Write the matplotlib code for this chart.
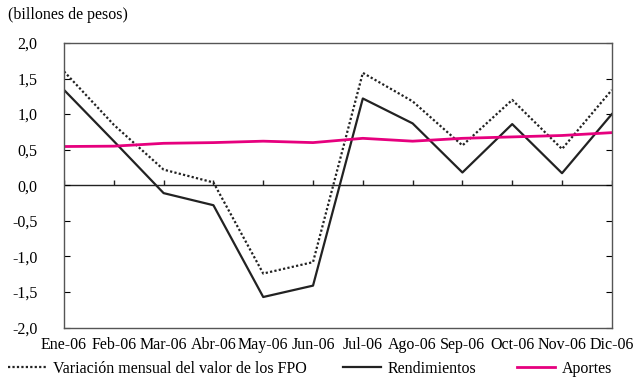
import matplotlib.pyplot as plt
from matplotlib.ticker import FuncFormatter, MultipleLocator

# Valores mensuales 2006 (billones de pesos)
meses = ['Ene-06', 'Feb-06', 'Mar-06', 'Abr-06', 'May-06', 'Jun-06',
         'Jul-06', 'Ago-06', 'Sep-06', 'Oct-06', 'Nov-06', 'Dic-06']
variacion_fpo = [1.60, 0.85, 0.22, 0.04, -1.24, -1.08, 1.58, 1.18, 0.56, 1.20, 0.51, 1.34]
rendimientos = [1.34, 0.62, -0.11, -0.28, -1.57, -1.41, 1.22, 0.87, 0.18, 0.86, 0.17, 1.00]
aportes = [0.545, 0.55, 0.59, 0.60, 0.62, 0.60, 0.66, 0.62, 0.66, 0.68, 0.70, 0.74]

plt.rcParams['font.family'] = ['Liberation Serif', 'DejaVu Serif']
plt.rcParams['font.size'] = 11.5

fig = plt.figure(figsize=(6.34, 3.77), dpi=100)
ax = fig.add_axes([0.101, 0.131, 0.864, 0.755])

x = list(range(len(meses)))
l1, = ax.plot(x, variacion_fpo, color='#222222', lw=1.6, linestyle=(0, (1, 1)),
              label='Variación mensual del valor de los FPO')
l2, = ax.plot(x, rendimientos, color='#222222', lw=1.6, label='Rendimientos')
l3, = ax.plot(x, aportes, color='#e6007e', lw=2.0, label='Aportes')

ax.set_xlim(0, len(meses) - 1)
ax.set_ylim(-2, 2)
ax.yaxis.set_major_locator(MultipleLocator(0.5))
ax.yaxis.set_major_formatter(FuncFormatter(lambda v, _: f'{v:.1f}'.replace('.', ',')))
ax.tick_params(axis='y', direction='in', length=4, left=True, right=True, pad=19)

ax.set_xticks(x)
ax.set_xticklabels(meses)
ax.tick_params(axis='x', length=0, pad=7)

for s in ax.spines.values():
    s.set_color('#555555')
    s.set_linewidth(1.0)

# eje horizontal en cero con marcas hacia arriba
ax.axhline(0, color='#222222', lw=1.0, zorder=1)
ax.vlines(x, 0, 0.07, color='#222222', lw=1.0, zorder=1)

fig.text(0.013, 0.96, '(billones de pesos)', ha='left', va='center')

# una leyenda por serie para fijar su posición
for h, xpos in zip([l1, l2, l3], [0.0126, 0.541, 0.815]):
    fig.legend(handles=[h], loc='center left', bbox_to_anchor=(xpos, 0.021),
               frameon=False, handlelength=2.4, handletextpad=0.4,
               borderpad=0, borderaxespad=0)

fig.savefig('out.png', dpi=100)
